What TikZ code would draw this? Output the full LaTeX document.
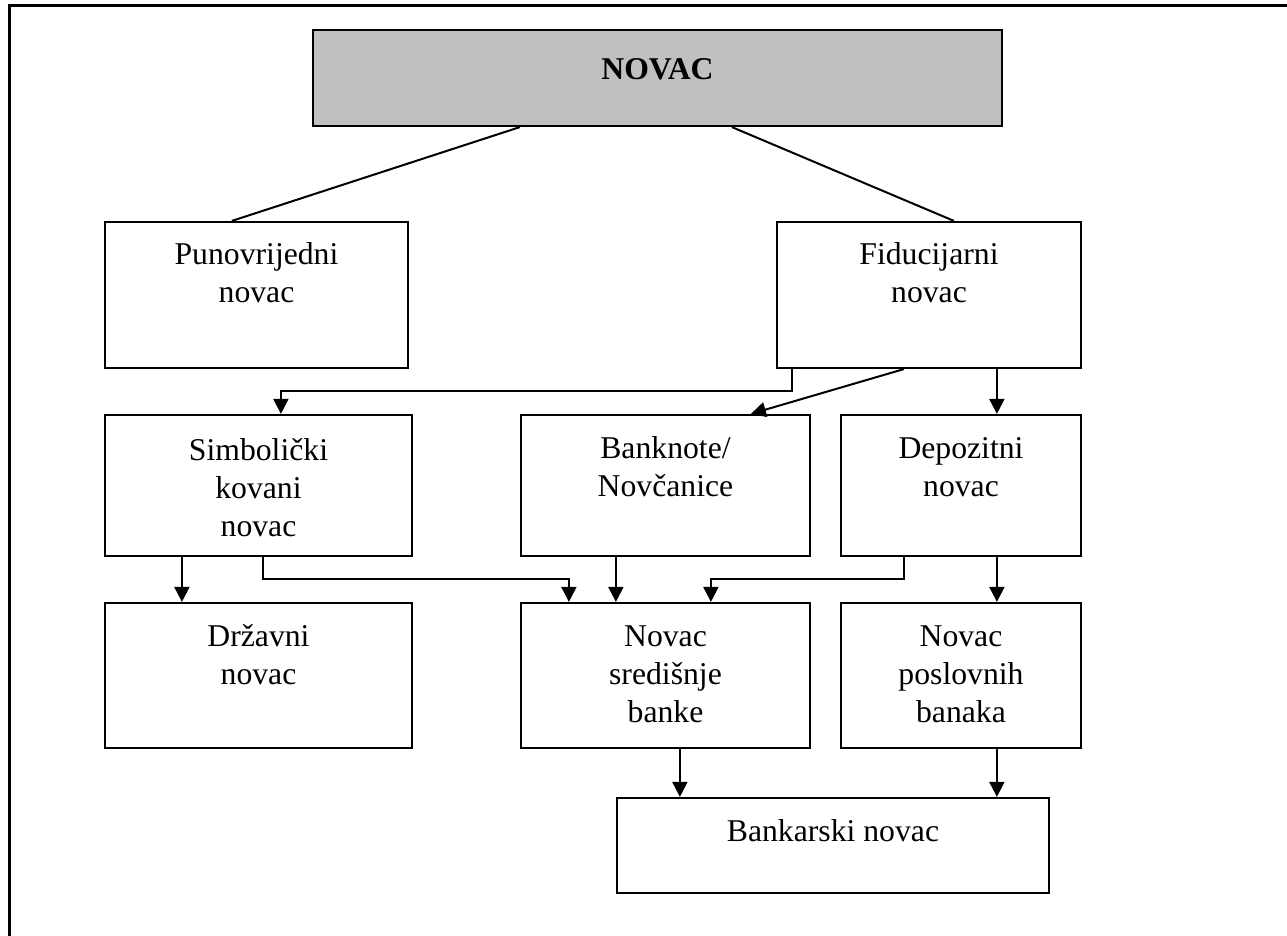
\documentclass[tikz,border=0pt]{standalone}
\usepackage{fontspec}
\setmainfont{Liberation Serif}
\usetikzlibrary{arrows.meta,calc,fit}
\definecolor{boxgrey}{HTML}{C0C0C0}
\tikzset{
  box/.style={draw=black, line width=1.1pt, inner sep=0pt, fill=white},
  topbox/.style={box, fill=boxgrey},
  lbl/.style={align=center, inner sep=0pt, anchor=north, font=\fontsize{15.85}{19}\selectfont},
  conn/.style={draw=black, line width=1pt},
  arr/.style={conn, -{Triangle[length=7.5pt,width=7.5pt]}},
  frame/.style={draw=black, line width=1.5pt}
}
\begin{document}
\begin{tikzpicture}[x=0.5pt,y=-0.5pt]
\useasboundingbox (0,0) rectangle (1287,936);
% outer frame (top and left edges)
\draw[frame] (1290,6) -- (9,6) -- (9,940);
% boxes
\node[topbox, fit={(313,30) (1002,126)}] (nov) {};
\node[box, fit={(105,222) (408,368)}] (pun) {};
\node[box, fit={(777,222) (1081,368)}] (fid) {};
\node[box, fit={(105,415) (412,556)}] (sim) {};
\node[box, fit={(521,415) (810,556)}] (ban) {};
\node[box, fit={(841,415) (1081,556)}] (dep) {};
\node[box, fit={(105,603) (412,748)}] (drz) {};
\node[box, fit={(521,603) (810,748)}] (sre) {};
\node[box, fit={(841,603) (1081,748)}] (pos) {};
\node[box, fit={(617,798) (1049,893)}] (bank) {};
% texts
\node[font=\fontsize{15.85}{19}\selectfont\bfseries, inner sep=0pt] (tnov) at ($(nov.north)+(0,40)$) {NOVAC};
\node[lbl] (tpun) at ($(pun.north)+(0,21)$) {Punovrijedni\\novac};
\node[lbl] (tfid) at ($(fid.north)+(0,21)$) {Fiducijarni\\novac};
\node[lbl] (tsim) at ($(sim.north)+(0,24)$) {Simbolički\\kovani\\novac};
\node[lbl] (tban) at ($(ban.north)+(0,22)$) {Banknote/\\Novčanice};
\node[lbl] (tdep) at ($(dep.north)+(0,23)$) {Depozitni\\novac};
\node[lbl] (tdrz) at ($(drz.north)+(0,22)$) {Državni\\novac};
\node[lbl] (tsre) at ($(sre.north)+(0,23)$) {Novac\\središnje\\banke};
\node[lbl] (tpos) at ($(pos.north)+(0,23)$) {Novac\\poslovnih\\banaka};
\node[lbl] (tbank) at ($(bank.north)+(0,22)$) {Bankarski novac};
% connector end points
\coordinate (n1) at ($(nov.south west)+(208,0)$);
\coordinate (n2) at ($(nov.south west)+(420,0)$);
\coordinate (p1) at ($(pun.north west)+(128,0)$);
\coordinate (f0) at ($(fid.north west)+(178,0)$);
\coordinate (f1) at ($(fid.south west)+(16,0)$);
\coordinate (f2) at ($(fid.south west)+(128,0)$);
\coordinate (f3) at ($(fid.south west)+(221,0)$);
\coordinate (s0) at ($(sim.north west)+(177,0)$);
\coordinate (b0) at ($(ban.north west)+(231,0)$);
\coordinate (d0) at ($(dep.north west)+(157,0)$);
\coordinate (s1) at ($(sim.south west)+(78,0)$);
\coordinate (s2) at ($(sim.south west)+(159,0)$);
\coordinate (b1) at ($(ban.south west)+(96,0)$);
\coordinate (d1) at ($(dep.south west)+(64,0)$);
\coordinate (d2) at ($(dep.south west)+(157,0)$);
\coordinate (z0) at ($(drz.north west)+(78,0)$);
\coordinate (r1) at ($(sre.north west)+(49,0)$);
\coordinate (r2) at ($(sre.north west)+(96,0)$);
\coordinate (r3) at ($(sre.north west)+(191,0)$);
\coordinate (o0) at ($(pos.north west)+(157,0)$);
\coordinate (r4) at ($(sre.south west)+(160,0)$);
\coordinate (o1) at ($(pos.south west)+(157,0)$);
\coordinate (k1) at ($(bank.north west)+(64,0)$);
\coordinate (k2) at ($(bank.north west)+(381,0)$);
% connectors
\draw[conn] (n1) -- (p1);
\draw[conn] (n2) -- (f0);
\draw[arr] (f1) |- ($(f1)!0.5!(s0)$) -| (s0);
\draw[arr] (f2) -- (b0);
\draw[arr] (f3) -- (d0);
\draw[arr] (s1) -- (z0);
\draw[arr] (s2) |- ($(s2)!0.5!(r1)$) -| (r1);
\draw[arr] (b1) -- (r2);
\draw[arr] (d1) |- ($(d1)!0.5!(r3)$) -| (r3);
\draw[arr] (d2) -- (o0);
\draw[arr] (r4) -- (k1);
\draw[arr] (o1) -- (k2);
\end{tikzpicture}
\end{document}
